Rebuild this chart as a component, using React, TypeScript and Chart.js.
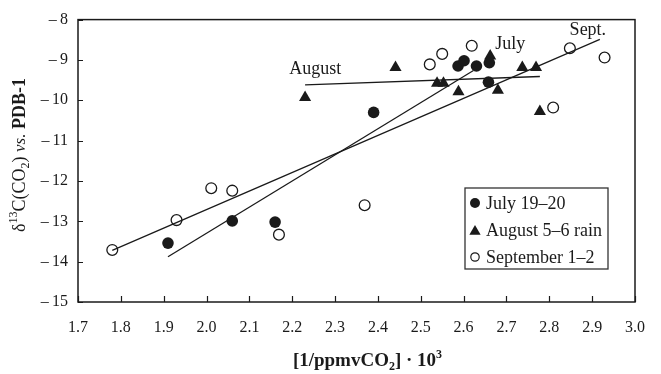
import React, { useEffect, useRef } from "react";
import { Chart, registerables } from "chart.js";

Chart.register(...registerables);

// ---- data ----
const julyX = [1.91, 2.06, 2.16, 2.39, 2.587, 2.601, 2.63, 2.66, 2.658];
const julyY = [-13.54, -12.99, -13.02, -10.3, -9.15, -9.02, -9.15, -9.07, -9.55];

const augustX = [2.23, 2.441, 2.538, 2.553, 2.588, 2.662, 2.68, 2.737, 2.769, 2.778];
const augustY = [-9.93, -9.19, -9.58, -9.58, -9.79, -8.9, -9.75, -9.19, -9.19, -10.28];

const septX = [1.78, 1.93, 2.011, 2.06, 2.169, 2.369, 2.521, 2.55, 2.619, 2.848, 2.929, 2.809];
const septY = [-13.71, -12.97, -12.18, -12.24, -13.33, -12.6, -9.11, -8.85, -8.65, -8.71, -8.94, -10.18];

const julyFitX = [1.91, 2.623];
const julyFitY = [-13.88, -9.26];
const augustFitX = [2.23, 2.778];
const augustFitY = [-9.62, -9.41];
const septFitX = [1.78, 2.918];
const septFitY = [-13.72, -8.49];

const annotLabels = ["August", "July", "Sept."];
const annotX = [2.254, 2.709, 2.89];
const annotY = [-9.36, -8.73, -8.38];

const legendLabels = ["July 19\u201320", "August 5\u20136 rain", "September 1\u20132"];

const xMin = 1.7;
const xMax = 3.0;
const yMin = -15;
const yMax = -8;

const FONT = '"Liberation Serif", "Times New Roman", serif';
const INK = "#1a1a1a";

const pts = (xs: number[], ys: number[]) => xs.map((x, i) => ({ x, y: ys[i] }));

type Seg = { t: string; f: string; dy?: number };
function drawRich(ctx: CanvasRenderingContext2D, segs: Seg[], cx: number, baseline: number) {
  let w = 0;
  for (const s of segs) {
    ctx.font = s.f;
    w += ctx.measureText(s.t).width;
  }
  let x = cx - w / 2;
  ctx.textAlign = "left";
  ctx.textBaseline = "alphabetic";
  for (const s of segs) {
    ctx.font = s.f;
    ctx.fillText(s.t, x, baseline + (s.dy || 0));
    x += ctx.measureText(s.t).width;
  }
}

const f = (size: number, weight = "normal", style = "normal") => `${style} ${weight} ${size}px ${FONT}`;

const decor = {
  id: "decor",
  afterDraw(chart: any) {
    const ctx: CanvasRenderingContext2D = chart.ctx;
    const { left, right, top, bottom } = chart.chartArea;
    const xs = chart.scales.x;
    const ys = chart.scales.y;
    ctx.save();
    // frame
    ctx.strokeStyle = INK;
    ctx.lineWidth = 1.5;
    ctx.strokeRect(left, top, right - left, bottom - top);
    // inward ticks
    ctx.lineWidth = 1.2;
    ctx.beginPath();
    for (const t of xs.ticks) {
      const px = Math.round(xs.getPixelForValue(t.value)) + 0.5;
      ctx.moveTo(px, bottom);
      ctx.lineTo(px, bottom - 6);
    }
    for (const t of ys.ticks) {
      const py = Math.round(ys.getPixelForValue(t.value)) + 0.5;
      ctx.moveTo(left, py);
      ctx.lineTo(left + 5, py);
    }
    ctx.stroke();

    // annotations
    ctx.fillStyle = INK;
    ctx.font = f(18);
    ctx.textAlign = "center";
    ctx.textBaseline = "alphabetic";
    annotLabels.forEach((lab, i) => {
      ctx.fillText(lab, xs.getPixelForValue(annotX[i]), ys.getPixelForValue(annotY[i]));
    });

    // legend box
    const bx = right - 170;
    const by = bottom - 114;
    const bw = 143;
    const bh = 81;
    ctx.fillStyle = "#ffffff";
    ctx.fillRect(bx, by, bw, bh);
    ctx.strokeStyle = "#333";
    ctx.lineWidth = 1.3;
    ctx.strokeRect(bx, by, bw, bh);
    const rowY = [by + 15, by + 42, by + 69];
    const mx = bx + 10;
    // markers
    ctx.fillStyle = INK;
    ctx.beginPath();
    ctx.arc(mx, rowY[0], 5, 0, Math.PI * 2);
    ctx.fill();
    const r = 6.5;
    ctx.beginPath();
    ctx.moveTo(mx, rowY[1] - r + 1.5);
    ctx.lineTo(mx + r * 0.866, rowY[1] + r / 2 + 1.5);
    ctx.lineTo(mx - r * 0.866, rowY[1] + r / 2 + 1.5);
    ctx.closePath();
    ctx.fill();
    ctx.beginPath();
    ctx.arc(mx, rowY[2], 4.2, 0, Math.PI * 2);
    ctx.strokeStyle = INK;
    ctx.lineWidth = 1.2;
    ctx.stroke();
    ctx.fillStyle = INK;
    ctx.font = f(18);
    ctx.textAlign = "left";
    ctx.textBaseline = "middle";
    legendLabels.forEach((lab, i) => ctx.fillText(lab, bx + 21, rowY[i] + 1));

    // x title
    ctx.fillStyle = INK;
    drawRich(
      ctx,
      [
        { t: "[1/ppmvCO", f: f(19, "bold") },
        { t: "2", f: f(12, "bold"), dy: 4 },
        { t: "] \u00b7 10", f: f(19, "bold") },
        { t: "3", f: f(12, "bold"), dy: -8 },
      ],
      (left + right) / 2 + 11,
      366
    );

    // y title
    ctx.save();
    ctx.translate(24.5, 155);
    ctx.rotate(-Math.PI / 2);
    drawRich(
      ctx,
      [
        { t: "\u03b4", f: f(18) },
        { t: "13", f: f(12), dy: -8 },
        { t: "C(CO", f: f(18) },
        { t: "2", f: f(12), dy: 4 },
        { t: ") ", f: f(18) },
        { t: "vs.", f: f(17, "normal", "italic") },
        { t: " PDB-1", f: f(18, "bold") },
      ],
      0,
      0
    );
    ctx.restore();
    ctx.restore();
  },
};

export default function App() {
  const ref = useRef<HTMLCanvasElement | null>(null);
  useEffect(() => {
    document.body.style.margin = "0";
    const canvas = ref.current;
    if (!canvas) return;
    const lineDs = (xs: number[], ys: number[]) => ({
      data: pts(xs, ys),
      showLine: true,
      pointRadius: 0,
      borderColor: INK,
      borderWidth: 1.3,
      fill: false,
    });
    const chart = new Chart(canvas, {
      type: "scatter",
      data: {
        datasets: [
          lineDs(julyFitX, julyFitY),
          lineDs(augustFitX, augustFitY),
          lineDs(septFitX, septFitY),
          {
            label: legendLabels[0],
            data: pts(julyX, julyY),
            pointStyle: "circle",
            pointRadius: 5.8,
            pointBackgroundColor: INK,
            pointBorderColor: INK,
            pointBorderWidth: 0,
          },
          {
            label: legendLabels[1],
            data: pts(augustX, augustY),
            pointStyle: "triangle",
            pointRadius: 7,
            pointBackgroundColor: INK,
            pointBorderColor: INK,
            pointBorderWidth: 0,
          },
          {
            label: legendLabels[2],
            data: pts(septX, septY),
            pointStyle: "circle",
            pointRadius: 5.4,
            pointBackgroundColor: "#ffffff",
            pointBorderColor: INK,
            pointBorderWidth: 1.3,
          },
        ] as any,
      },
      options: {
        animation: false,
        responsive: false,
        devicePixelRatio: 1,
        layout: { padding: { top: 15, right: 24, left: 0, bottom: 0 } },
        plugins: { legend: { display: false }, tooltip: { enabled: false } },
        scales: {
          x: {
            type: "linear",
            min: xMin,
            max: xMax,
            afterFit: (s: any) => {
              s.height = 72;
            },
            grid: { display: false, drawTicks: false },
            border: { display: false },
            ticks: {
              stepSize: 0.1,
              padding: 16,
              maxRotation: 0,
              autoSkip: false,
              color: INK,
              font: { family: FONT, size: 16 },
              callback: (v: any) => Number(v).toFixed(1),
            },
          },
          y: {
            type: "linear",
            min: yMin,
            max: yMax,
            afterFit: (s: any) => {
              s.width = 78;
            },
            grid: { display: false, drawTicks: false },
            border: { display: false },
            ticks: {
              stepSize: 1,
              padding: 10,
              color: INK,
              font: { family: FONT, size: 16 },
              callback: (v: any) =>
                Number(v) < 0 ? "\u2013\u2009" + Math.abs(Number(v)) : String(v),
            },
          },
        },
      } as any,
      plugins: [decor],
    });
    return () => chart.destroy();
  }, []);
  return (
    <div style={{ width: 661, height: 374 }}>
      <canvas ref={ref} width={661} height={374} style={{ display: "block" }} />
    </div>
  );
}
